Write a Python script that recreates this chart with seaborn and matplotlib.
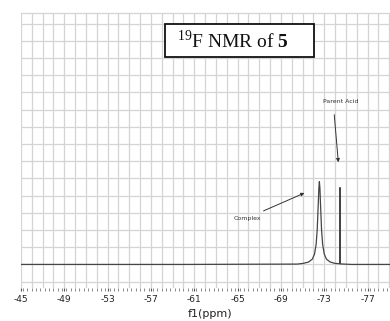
import matplotlib
matplotlib.use("Agg")
import matplotlib.pyplot as plt
from matplotlib.patches import Rectangle
from matplotlib.ticker import MultipleLocator
import seaborn as sns
import pandas as pd

# spectrum points (ppm, relative intensity)
ppm = [-45.0, -60.0, -70.5, -71.05, -71.55, -71.9, -72.1, -72.25, -72.35, -72.45,
       -72.5, -72.55, -72.6, -72.65, -72.75, -72.85, -73.0, -73.2, -73.55, -74.0,
       -74.42, -74.45, -74.48, -75.5, -79.5]
intensity = [0.0, 0.0, 0.02, 0.06, 0.14, 0.31, 0.60, 1.17, 2.02, 3.57,
             4.43, 4.81, 4.43, 3.57, 2.02, 1.17, 0.60, 0.31, 0.14, 0.06,
             0.04, 4.47, 0.03, 0.0, 0.0]

tick_values = [-45, -49, -53, -57, -61, -65, -69, -73, -77]
tick_labels = ["-45", "-49", "-53", "-57", "-61", "-65", "-69", "-73", "-77"]

df = pd.DataFrame({"ppm": ppm, "intensity": intensity})

sns.set_theme(style="white")
plt.rcParams["mathtext.fontset"] = "custom"
plt.rcParams["mathtext.rm"] = "Liberation Serif"
plt.rcParams["mathtext.bf"] = "Liberation Serif:bold"

fig = plt.figure(figsize=(3.9, 3.21), dpi=100)
ax = fig.add_axes([21 / 390, 33 / 321, 1 - 21 / 390, 275 / 321])

sns.lineplot(data=df, x="ppm", y="intensity", ax=ax, color="#454545",
             linewidth=0.9, estimator=None)

ax.set_xlim(-45, -79.07)
ax.set_ylim(-1.37, 14.62)

# grid every 1 ppm / 1 unit
for v in range(-45, -80, -1):
    ax.axvline(v, color="#d4d4d4", linewidth=0.9, zorder=0)
for h in range(-1, 15):
    ax.axhline(h, color="#d4d4d4", linewidth=0.9, zorder=0)
ax.grid(False, which="both")

ax.set_xticks(tick_values)
ax.set_xticklabels(tick_labels)
ax.xaxis.set_minor_locator(MultipleLocator(0.4))
ax.set_yticks([])
ax.tick_params(axis="x", which="major", length=2, width=0.8, color="#555555",
               labelsize=6.5, pad=3, labelcolor="#222222", bottom=True)
ax.tick_params(axis="x", which="minor", length=2, width=0.6, color="#777777",
               bottom=True)

for s in ["left", "right", "bottom"]:
    ax.spines[s].set_visible(False)
ax.spines["top"].set_color("#d4d4d4")
ax.spines["top"].set_linewidth(0.9)

ax.set_xlabel("f1(ppm)", fontsize=8, color="#222222")
ax.xaxis.set_label_coords((210 - 21) / 369, -0.075)
ax.set_ylabel("")

# annotations
ax.annotate("", xy=(-74.32, 5.78), xytext=(-73.90, 8.87),
            arrowprops=dict(arrowstyle="-|>", color="#333333", lw=0.7,
                            mutation_scale=5))
ax.text(-74.55, 9.5, "Parent Acid", fontsize=4.5, ha="center", va="center",
        color="#333333")
ax.annotate("", xy=(-71.41, 4.22), xytext=(-67.16, 3.05),
            arrowprops=dict(arrowstyle="-|>", color="#333333", lw=0.7,
                            mutation_scale=5))
ax.text(-65.87, 2.65, "Complex", fontsize=4.5, ha="center", va="center",
        color="#333333")

# boxed title
fig.patches.append(Rectangle((165 / 390, 1 - 57 / 321), 149 / 390, 33 / 321,
                             transform=fig.transFigure, facecolor="white",
                             edgecolor="#111111", linewidth=1.3, zorder=5))
fig.text(177 / 390, 1 - 48 / 321, r"$^{19}$F NMR of $\mathbf{5}$",
         fontsize=14, family="Liberation Serif", color="#111111",
         ha="left", va="baseline", zorder=6)

fig.savefig("out.png", dpi=100)
